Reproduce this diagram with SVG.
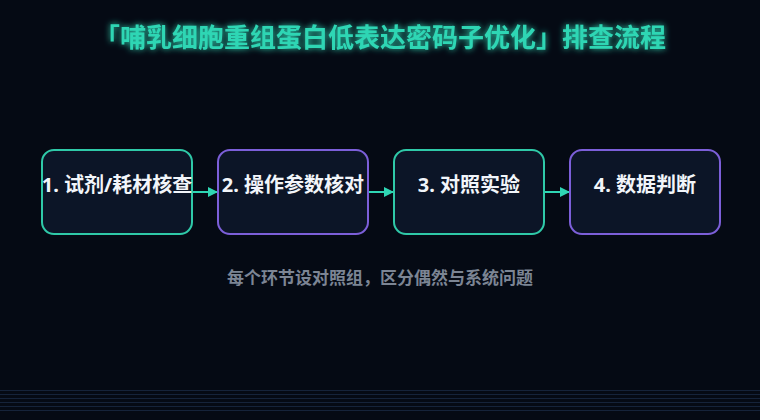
<svg xmlns="http://www.w3.org/2000/svg" width="760" height="420" viewBox="0 0 760 420">
  <defs>
    <style>
      .title { font-family: "Noto Sans CJK SC", "Noto Sans", sans-serif; font-size: 26px; font-weight: 700; fill: #2fd6b4; }
      .label { font-family: "Noto Sans", "Noto Sans CJK SC", sans-serif; font-size: 20px; font-weight: 700; fill: #f2f5fa; }
      .note { font-family: "Noto Sans CJK SC", "Noto Sans", sans-serif; font-size: 17px; font-weight: 700; fill: #7c8594; }
      .box { fill: #0c1527; stroke-width: 2; }
      .teal { stroke: #2fc9a8; }
      .purple { stroke: #7c5fd9; }
      .conn { stroke: #2fd6b4; stroke-width: 2; fill: none; }
      .grid { stroke: #15233a; stroke-width: 1; }
    </style>
    <marker id="arrow" viewBox="0 0 10 10" refX="9" refY="5" markerWidth="5" markerHeight="5" orient="auto" markerUnits="strokeWidth">
      <path d="M0,0 L10,5 L0,10 z" fill="#2fd6b4"/>
    </marker>
    <filter id="glow" x="-10%" y="-50%" width="120%" height="200%">
      <feGaussianBlur in="SourceGraphic" stdDeviation="3" result="b"/>
      <feMerge>
        <feMergeNode in="b"/>
        <feMergeNode in="SourceGraphic"/>
      </feMerge>
    </filter>
  </defs>
  <rect x="0" y="0" width="760" height="420" fill="#050a14"/>
  <g id="bg-lines">
    <line class="grid" x1="0" y1="390.5" x2="760" y2="390.5"/>
    <line class="grid" x1="0" y1="394.5" x2="760" y2="394.5"/>
    <line class="grid" x1="0" y1="398.5" x2="760" y2="398.5"/>
    <line class="grid" x1="0" y1="402.5" x2="760" y2="402.5"/>
    <line class="grid" x1="0" y1="406.5" x2="760" y2="406.5"/>
    <line class="grid" x1="0" y1="410.5" x2="760" y2="410.5"/>
  </g>
  <g id="title">
    <text class="title" x="380" y="47" text-anchor="middle" filter="url(#glow)">「哺乳细胞重组蛋白低表达密码子优化」排查流程</text>
  </g>
  <g id="connectors">
    <line class="conn" x1="193" y1="192" x2="217" y2="192" marker-end="url(#arrow)"/>
    <line class="conn" x1="369" y1="192" x2="393" y2="192" marker-end="url(#arrow)"/>
    <line class="conn" x1="545" y1="192" x2="569" y2="192" marker-end="url(#arrow)"/>
  </g>
  <g id="node1">
    <rect class="box teal" x="42" y="150" width="150" height="84" rx="12"/>
    <text class="label" x="117" y="192" text-anchor="middle">1. 试剂/耗材核查</text>
  </g>
  <g id="node2">
    <rect class="box purple" x="218" y="150" width="150" height="84" rx="12"/>
    <text class="label" x="293" y="192" text-anchor="middle">2. 操作参数核对</text>
  </g>
  <g id="node3">
    <rect class="box teal" x="394" y="150" width="150" height="84" rx="12"/>
    <text class="label" x="469" y="192" text-anchor="middle">3. 对照实验</text>
  </g>
  <g id="node4">
    <rect class="box purple" x="570" y="150" width="150" height="84" rx="12"/>
    <text class="label" x="645" y="192" text-anchor="middle">4. 数据判断</text>
  </g>
  <g id="footnote">
    <text class="note" x="380" y="284" text-anchor="middle">每个环节设对照组，区分偶然与系统问题</text>
  </g>
</svg>
